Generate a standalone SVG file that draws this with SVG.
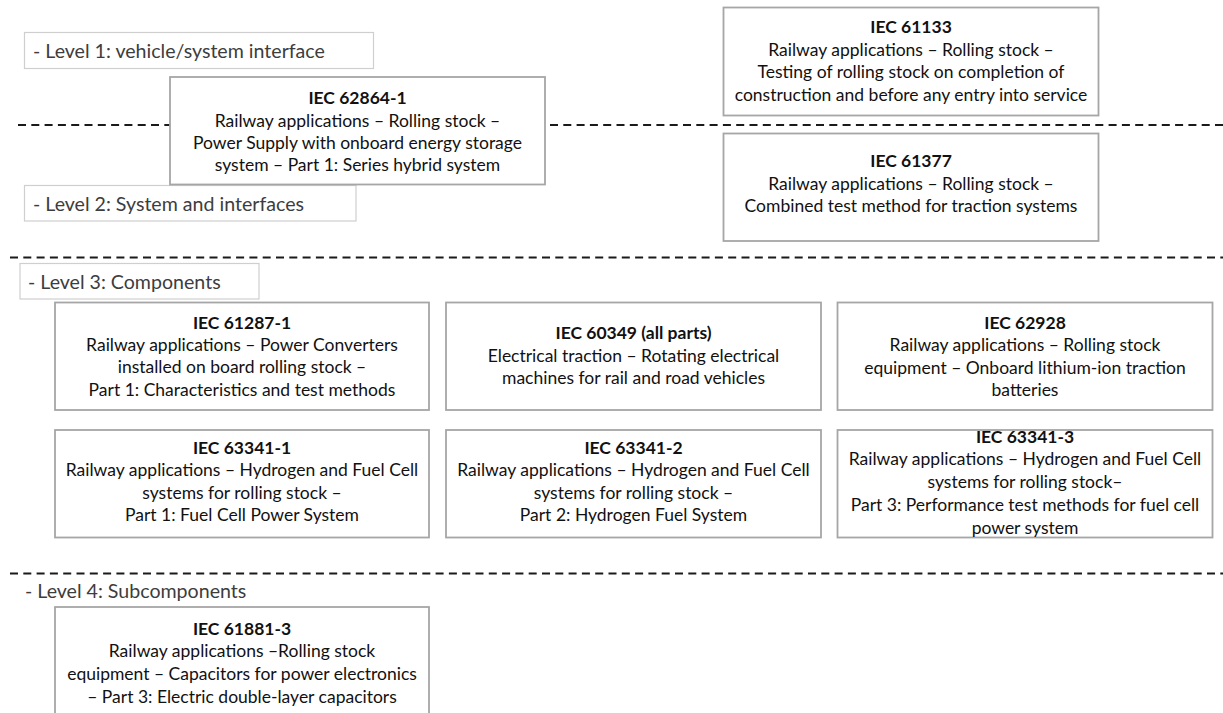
<svg xmlns="http://www.w3.org/2000/svg" width="1223" height="713" viewBox="0 0 1223 713">
<style>
.bg{fill:#ffffff}
.dash{stroke:#1a1a1a;stroke-width:2;stroke-dasharray:8 5.3;fill:none}
.box{fill:#ffffff;stroke:#a6a6a6;stroke-width:1.8}
.lbox{fill:#ffffff;stroke:#cfcfcf;stroke-width:1.2}
.t{font-family:Lato,"Liberation Sans",sans-serif;font-size:17.5px;fill:#111111;text-anchor:middle}
.b{font-weight:bold}
.lvl{font-family:Lato,"Liberation Sans",sans-serif;font-size:19.6px;font-weight:400;fill:#3d3d3d}
</style>
<rect class="bg" x="0" y="0" width="1223" height="713"/>
<g id="connectors">
<line class="dash" x1="18" y1="125" x2="1223" y2="125"/>
<line class="dash" x1="10" y1="257.5" x2="1223" y2="257.5"/>
<line class="dash" x1="10" y1="573.5" x2="1223" y2="573.5"/>
</g>
<g id="level1">
<rect class="lbox" x="24.5" y="32.5" width="349" height="36"/>
<text class="lvl" x="33" y="57.5">- Level 1: vehicle/system interface</text>
</g>
<g id="level2">
<rect class="lbox" x="24.5" y="185.5" width="331.5" height="35.5"/>
<text class="lvl" x="33" y="210.5">- Level 2: System and interfaces</text>
</g>
<g id="level3">
<rect class="lbox" x="20" y="263.5" width="239" height="35.5"/>
<text class="lvl" x="28" y="289">- Level 3: Components</text>
</g>
<g id="level4">
<text class="lvl" x="25" y="598">- Level 4: Subcomponents</text>
</g>
<g id="iec62864-1">
<rect class="box" x="170" y="77" width="375" height="107.5"/>
<text class="t"><tspan class="b" x="357.5" y="104">IEC 62864-1</tspan><tspan x="357.5" y="126.5">Railway applications – Rolling stock –</tspan><tspan x="357.5" y="149">Power Supply with onboard energy storage</tspan><tspan x="357.5" y="171">system – Part 1: Series hybrid system</tspan></text>
</g>
<g id="iec61133">
<rect class="box" x="723.5" y="7.5" width="375" height="108"/>
<text class="t"><tspan class="b" x="911" y="33">IEC 61133</tspan><tspan x="911" y="56">Railway applications – Rolling stock –</tspan><tspan x="911" y="78">Testing of rolling stock on completion of</tspan><tspan x="911" y="101">construction and before any entry into service</tspan></text>
</g>
<g id="iec61377">
<rect class="box" x="723.5" y="133.5" width="375" height="107.5"/>
<text class="t"><tspan class="b" x="911" y="167">IEC 61377</tspan><tspan x="911" y="190">Railway applications – Rolling stock –</tspan><tspan x="911" y="212">Combined test method for traction systems</tspan></text>
</g>
<g id="iec61287-1">
<rect class="box" x="55" y="302.5" width="374" height="107.5"/>
<text class="t"><tspan class="b" x="242" y="329">IEC 61287-1</tspan><tspan x="242" y="351">Railway applications – Power Converters</tspan><tspan x="242" y="373">installed on board rolling stock –</tspan><tspan x="242" y="396">Part 1: Characteristics and test methods</tspan></text>
</g>
<g id="iec60349">
<rect class="box" x="446" y="302.5" width="375" height="107.5"/>
<text class="t"><tspan class="b" x="633.5" y="339">IEC 60349 (all parts)</tspan><tspan x="633.5" y="362">Electrical traction – Rotating electrical</tspan><tspan x="633.5" y="384">machines for rail and road vehicles</tspan></text>
</g>
<g id="iec62928">
<rect class="box" x="837.5" y="302.5" width="375" height="107.5"/>
<text class="t"><tspan class="b" x="1025" y="329">IEC 62928</tspan><tspan x="1025" y="351">Railway applications – Rolling stock</tspan><tspan x="1025" y="374">equipment – Onboard lithium-ion traction</tspan><tspan x="1025" y="396">batteries</tspan></text>
</g>
<g id="iec63341-1">
<rect class="box" x="55" y="430" width="374" height="107.5"/>
<text class="t"><tspan class="b" x="242" y="454">IEC 63341-1</tspan><tspan x="242" y="476">Railway applications – Hydrogen and Fuel Cell</tspan><tspan x="242" y="499">systems for rolling stock –</tspan><tspan x="242" y="521">Part 1: Fuel Cell Power System</tspan></text>
</g>
<g id="iec63341-2">
<rect class="box" x="446" y="430" width="375" height="107.5"/>
<text class="t"><tspan class="b" x="633.5" y="454">IEC 63341-2</tspan><tspan x="633.5" y="476">Railway applications – Hydrogen and Fuel Cell</tspan><tspan x="633.5" y="499">systems for rolling stock –</tspan><tspan x="633.5" y="521">Part 2: Hydrogen Fuel System</tspan></text>
</g>
<g id="iec63341-3">
<rect class="box" x="837.5" y="430" width="375" height="107.5"/>
<text class="t"><tspan class="b" x="1025" y="443">IEC 63341-3</tspan><tspan x="1025" y="465">Railway applications – Hydrogen and Fuel Cell</tspan><tspan x="1025" y="488">systems for rolling stock–</tspan><tspan x="1025" y="511">Part 3: Performance test methods for fuel cell</tspan><tspan x="1025" y="534">power system</tspan></text>
</g>
<g id="iec61881-3">
<rect class="box" x="55" y="607" width="374" height="120"/>
<text class="t"><tspan class="b" x="242" y="635">IEC 61881-3</tspan><tspan x="242" y="657">Railway applications –Rolling stock</tspan><tspan x="242" y="680">equipment – Capacitors for power electronics</tspan><tspan x="242" y="703">– Part 3: Electric double-layer capacitors</tspan></text>
</g>
</svg>
